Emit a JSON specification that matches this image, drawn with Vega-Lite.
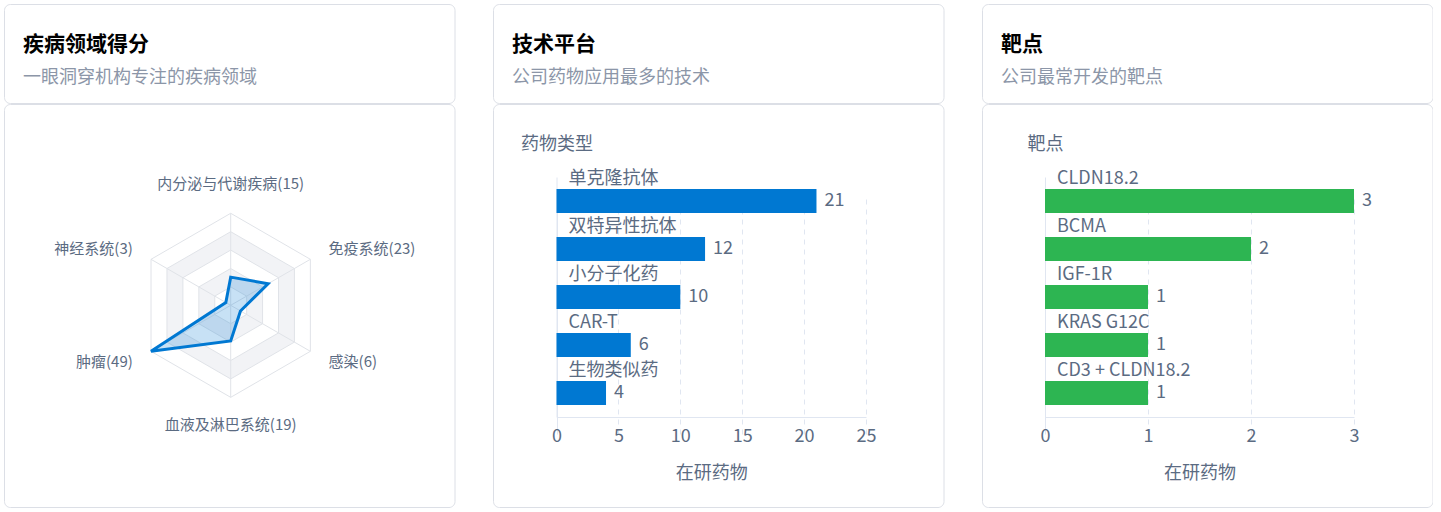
{
  "$schema": "https://vega.github.io/schema/vega-lite/v6.json",
  "padding": {"left": 3, "top": 3, "right": 0, "bottom": 0},
  "background": "#ffffff",
  "spacing": 37,
  "config": {
    "font": "Noto Sans CJK SC",
    "view": {"stroke": "#dcdfe6", "cornerRadius": 6, "strokeWidth": 1},
    "text": {"font": "Noto Sans CJK SC"},
    "title": {"font": "Noto Sans CJK SC", "subtitleFont": "Noto Sans CJK SC"},
    "axis": {"labelFont": "Noto Sans CJK SC", "titleFont": "Noto Sans CJK SC"}
  },
  "datasets": {
    "radar": [
      {"name": "内分泌与代谢疾病", "label": "内分泌与代谢疾病(15)", "value": 15, "i": 0},
      {"name": "免疫系统", "label": "免疫系统(23)", "value": 23, "i": 1},
      {"name": "感染", "label": "感染(6)", "value": 6, "i": 2},
      {"name": "血液及淋巴系统", "label": "血液及淋巴系统(19)", "value": 19, "i": 3},
      {"name": "肿瘤", "label": "肿瘤(49)", "value": 49, "i": 4},
      {"name": "神经系统", "label": "神经系统(3)", "value": 3, "i": 5}
    ],
    "rings": [
      {"ring": 1, "r": 9.8, "i": 0}, {"ring": 1, "r": 9.8, "i": 1}, {"ring": 1, "r": 9.8, "i": 2}, {"ring": 1, "r": 9.8, "i": 3}, {"ring": 1, "r": 9.8, "i": 4}, {"ring": 1, "r": 9.8, "i": 5},
      {"ring": 2, "r": 19.6, "i": 0}, {"ring": 2, "r": 19.6, "i": 1}, {"ring": 2, "r": 19.6, "i": 2}, {"ring": 2, "r": 19.6, "i": 3}, {"ring": 2, "r": 19.6, "i": 4}, {"ring": 2, "r": 19.6, "i": 5},
      {"ring": 3, "r": 29.4, "i": 0}, {"ring": 3, "r": 29.4, "i": 1}, {"ring": 3, "r": 29.4, "i": 2}, {"ring": 3, "r": 29.4, "i": 3}, {"ring": 3, "r": 29.4, "i": 4}, {"ring": 3, "r": 29.4, "i": 5},
      {"ring": 4, "r": 39.2, "i": 0}, {"ring": 4, "r": 39.2, "i": 1}, {"ring": 4, "r": 39.2, "i": 2}, {"ring": 4, "r": 39.2, "i": 3}, {"ring": 4, "r": 39.2, "i": 4}, {"ring": 4, "r": 39.2, "i": 5},
      {"ring": 5, "r": 49, "i": 0}, {"ring": 5, "r": 49, "i": 1}, {"ring": 5, "r": 49, "i": 2}, {"ring": 5, "r": 49, "i": 3}, {"ring": 5, "r": 49, "i": 4}, {"ring": 5, "r": 49, "i": 5}
    ],
    "drugs": [
      {"name": "单克隆抗体", "count": 21},
      {"name": "双特异性抗体", "count": 12},
      {"name": "小分子化药", "count": 10},
      {"name": "CAR-T", "count": 6},
      {"name": "生物类似药", "count": 4}
    ],
    "targets": [
      {"name": "CLDN18.2", "count": 3},
      {"name": "BCMA", "count": 2},
      {"name": "IGF-1R", "count": 1},
      {"name": "KRAS G12C", "count": 1},
      {"name": "CD3 + CLDN18.2", "count": 1}
    ],
    "blank": [{"k": 1}]
  },
  "hconcat": [
    {
      "spacing": -3,
      "vconcat": [
        {
          "width": 450.5, "height": 99,
          "view": {"stroke": "#dcdfe6", "cornerRadius": 6, "fill": "#ffffff"},
          "data": {"name": "blank"},
          "mark": {"type": "rect", "opacity": 0},
          "title": {"text": "疾病领域得分", "subtitle": "一眼洞穿机构专注的疾病领域", "anchor": "start", "frame": "group", "orient": "top", "offset": -83, "dx": 19, "fontSize": 21, "fontWeight": "bold", "color": "#000000", "subtitleFontSize": 18, "subtitleColor": "#8c96a8", "subtitlePadding": 14}
        },
        {
          "width": 450.5, "height": 403,
          "layer": [
            {
              "data": {"name": "rings"},
              "transform": [{"filter": "datum.ring === 4"}, {"calculate": "datum.r * sin(datum.i * PI / 3)", "as": "x"}, {"calculate": "datum.r * cos(datum.i * PI / 3)", "as": "y"}],
              "mark": {"type": "line", "interpolate": "linear-closed", "fill": "#f2f3f6", "stroke": "#e0e3e8", "strokeWidth": 1},
              "encoding": {
                "x": {"field": "x", "type": "quantitative", "scale": {"domain": [-120.74, 119.2], "nice": false, "zero": false}, "axis": null},
                "y": {"field": "y", "type": "quantitative", "scale": {"domain": [-107.4, 107.2], "nice": false, "zero": false}, "axis": null},
                "order": {"field": "i"}
              }
            },
            {
              "data": {"name": "rings"},
              "transform": [{"filter": "datum.ring === 3"}, {"calculate": "datum.r * sin(datum.i * PI / 3)", "as": "x"}, {"calculate": "datum.r * cos(datum.i * PI / 3)", "as": "y"}],
              "mark": {"type": "line", "interpolate": "linear-closed", "fill": "#ffffff", "stroke": "#e0e3e8", "strokeWidth": 1},
              "encoding": {"x": {"field": "x", "type": "quantitative"}, "y": {"field": "y", "type": "quantitative"}, "order": {"field": "i"}}
            },
            {
              "data": {"name": "rings"},
              "transform": [{"filter": "datum.ring === 2"}, {"calculate": "datum.r * sin(datum.i * PI / 3)", "as": "x"}, {"calculate": "datum.r * cos(datum.i * PI / 3)", "as": "y"}],
              "mark": {"type": "line", "interpolate": "linear-closed", "fill": "#f2f3f6", "stroke": "#e0e3e8", "strokeWidth": 1},
              "encoding": {"x": {"field": "x", "type": "quantitative"}, "y": {"field": "y", "type": "quantitative"}, "order": {"field": "i"}}
            },
            {
              "data": {"name": "rings"},
              "transform": [{"filter": "datum.ring === 1"}, {"calculate": "datum.r * sin(datum.i * PI / 3)", "as": "x"}, {"calculate": "datum.r * cos(datum.i * PI / 3)", "as": "y"}],
              "mark": {"type": "line", "interpolate": "linear-closed", "fill": "#ffffff", "stroke": "#e0e3e8", "strokeWidth": 1},
              "encoding": {"x": {"field": "x", "type": "quantitative"}, "y": {"field": "y", "type": "quantitative"}, "order": {"field": "i"}}
            },
            {
              "data": {"name": "rings"},
              "transform": [{"filter": "datum.ring === 5"}, {"calculate": "datum.r * sin(datum.i * PI / 3)", "as": "x"}, {"calculate": "datum.r * cos(datum.i * PI / 3)", "as": "y"}],
              "mark": {"type": "line", "interpolate": "linear-closed", "stroke": "#e0e3e8", "strokeWidth": 1},
              "encoding": {"x": {"field": "x", "type": "quantitative"}, "y": {"field": "y", "type": "quantitative"}, "order": {"field": "i"}}
            },
            {
              "data": {"name": "rings"},
              "transform": [{"filter": "datum.ring === 5"}, {"calculate": "datum.r * sin(datum.i * PI / 3)", "as": "x"}, {"calculate": "datum.r * cos(datum.i * PI / 3)", "as": "y"}],
              "mark": {"type": "rule", "stroke": "#e0e3e8", "strokeWidth": 1},
              "encoding": {"x": {"field": "x", "type": "quantitative"}, "y": {"field": "y", "type": "quantitative"}, "x2": {"datum": 0}, "y2": {"datum": 0}}
            },
            {
              "data": {"name": "radar"},
              "transform": [{"calculate": "datum.value * sin(datum.i * PI / 3)", "as": "x"}, {"calculate": "datum.value * cos(datum.i * PI / 3)", "as": "y"}],
              "mark": {"type": "line", "interpolate": "linear-closed", "fill": "#0078d2", "fillOpacity": 0.22, "stroke": "#0078d2", "strokeWidth": 3, "strokeJoin": "miter"},
              "encoding": {"x": {"field": "x", "type": "quantitative"}, "y": {"field": "y", "type": "quantitative"}, "order": {"field": "i"}}
            },
            {
              "data": {"name": "radar"},
              "transform": [{"filter": "datum.i === 0"}, {"calculate": "60.2 * sin(datum.i * PI / 3)", "as": "x"}, {"calculate": "60.2 * cos(datum.i * PI / 3)", "as": "y"}],
              "mark": {"type": "text", "align": "center", "baseline": "bottom", "fontSize": 15, "color": "#5b6b82"},
              "encoding": {"x": {"field": "x", "type": "quantitative"}, "y": {"field": "y", "type": "quantitative"}, "text": {"field": "label"}}
            },
            {
              "data": {"name": "radar"},
              "transform": [{"filter": "datum.i === 1 || datum.i === 2"}, {"calculate": "60.2 * sin(datum.i * PI / 3)", "as": "x"}, {"calculate": "60.2 * cos(datum.i * PI / 3)", "as": "y"}],
              "mark": {"type": "text", "align": "left", "baseline": "middle", "fontSize": 15, "color": "#5b6b82"},
              "encoding": {"x": {"field": "x", "type": "quantitative"}, "y": {"field": "y", "type": "quantitative"}, "text": {"field": "label"}}
            },
            {
              "data": {"name": "radar"},
              "transform": [{"filter": "datum.i === 3"}, {"calculate": "60.2 * sin(datum.i * PI / 3)", "as": "x"}, {"calculate": "60.2 * cos(datum.i * PI / 3)", "as": "y"}],
              "mark": {"type": "text", "align": "center", "baseline": "top", "fontSize": 15, "color": "#5b6b82"},
              "encoding": {"x": {"field": "x", "type": "quantitative"}, "y": {"field": "y", "type": "quantitative"}, "text": {"field": "label"}}
            },
            {
              "data": {"name": "radar"},
              "transform": [{"filter": "datum.i === 4 || datum.i === 5"}, {"calculate": "60.2 * sin(datum.i * PI / 3)", "as": "x"}, {"calculate": "60.2 * cos(datum.i * PI / 3)", "as": "y"}],
              "mark": {"type": "text", "align": "right", "baseline": "middle", "fontSize": 15, "color": "#5b6b82"},
              "encoding": {"x": {"field": "x", "type": "quantitative"}, "y": {"field": "y", "type": "quantitative"}, "text": {"field": "label"}}
            }
          ]
        }
      ]
    },
    {
      "spacing": -3,
      "vconcat": [
        {
          "width": 450.5, "height": 99,
          "view": {"stroke": "#dcdfe6", "cornerRadius": 6, "fill": "#ffffff"},
          "data": {"name": "blank"},
          "mark": {"type": "rect", "opacity": 0},
          "title": {"text": "技术平台", "subtitle": "公司药物应用最多的技术", "anchor": "start", "frame": "group", "orient": "top", "offset": -83, "dx": 19, "fontSize": 21, "fontWeight": "bold", "color": "#000000", "subtitleFontSize": 18, "subtitleColor": "#8c96a8", "subtitlePadding": 14}
        },
        {
          "width": 450.5, "height": 403,
          "data": {"name": "drugs"},
          "encoding": {
            "y": {"field": "name", "type": "nominal", "sort": null,
              "scale": {"range": [73, 313], "paddingInner": 0.5, "paddingOuter": 0.25},
              "axis": {"title": "药物类型", "labels": false, "ticks": false, "grid": false, "domain": true, "domainColor": "#e0e6f1", "offset": -63.5, "titleAngle": 0, "titleAlign": "center", "titleBaseline": "middle", "titleX": 0, "titleY": 40, "titleFontSize": 18, "titleFontWeight": "normal", "titleColor": "#5b6b82"}},
            "x": {"field": "count", "type": "quantitative",
              "scale": {"domain": [0, 25], "range": [63.5, 373], "nice": false},
              "axis": {"title": "在研药物", "values": [0, 5, 10, 15, 20, 25], "labelFlush": false, "offset": -90, "grid": true, "gridDash": {"condition": {"test": "datum.value === 0", "value": []}, "value": [5, 5]}, "gridColor": "#e0e6f1", "domainColor": "#e0e6f1", "ticks": false, "labelFontSize": 18, "labelColor": "#5b6b82", "labelPadding": 10, "titleFontSize": 18, "titleFontWeight": "normal", "titleColor": "#5b6b82", "titlePadding": 19}}
          },
          "layer": [
            {"mark": {"type": "bar", "color": "#0078d2"}},
            {"mark": {"type": "text", "align": "left", "baseline": "middle", "dx": 8, "fontSize": 18, "color": "#5b6b82"}, "encoding": {"text": {"field": "count"}}},
            {"mark": {"type": "text", "align": "left", "baseline": "middle", "dx": 12, "dy": -22, "fontSize": 18, "color": "#5b6b82"}, "encoding": {"x": {"datum": 0}, "text": {"field": "name"}}}
          ]
        }
      ]
    },
    {
      "spacing": -3,
      "vconcat": [
        {
          "width": 450.5, "height": 99,
          "view": {"stroke": "#dcdfe6", "cornerRadius": 6, "fill": "#ffffff"},
          "data": {"name": "blank"},
          "mark": {"type": "rect", "opacity": 0},
          "title": {"text": "靶点", "subtitle": "公司最常开发的靶点", "anchor": "start", "frame": "group", "orient": "top", "offset": -83, "dx": 19, "fontSize": 21, "fontWeight": "bold", "color": "#000000", "subtitleFontSize": 18, "subtitleColor": "#8c96a8", "subtitlePadding": 14}
        },
        {
          "width": 450.5, "height": 403,
          "data": {"name": "targets"},
          "encoding": {
            "y": {"field": "name", "type": "nominal", "sort": null,
              "scale": {"range": [73, 313], "paddingInner": 0.5, "paddingOuter": 0.25},
              "axis": {"title": "靶点", "labels": false, "ticks": false, "grid": false, "domain": true, "domainColor": "#e0e6f1", "offset": -63, "titleAngle": 0, "titleAlign": "center", "titleBaseline": "middle", "titleX": 0, "titleY": 40, "titleFontSize": 18, "titleFontWeight": "normal", "titleColor": "#5b6b82"}},
            "x": {"field": "count", "type": "quantitative",
              "scale": {"domain": [0, 3], "range": [63, 372], "nice": false},
              "axis": {"title": "在研药物", "values": [0, 1, 2, 3], "labelFlush": false, "offset": -90, "grid": true, "gridDash": {"condition": {"test": "datum.value === 0", "value": []}, "value": [5, 5]}, "gridColor": "#e0e6f1", "domainColor": "#e0e6f1", "ticks": false, "labelFontSize": 18, "labelColor": "#5b6b82", "labelPadding": 10, "titleFontSize": 18, "titleFontWeight": "normal", "titleColor": "#5b6b82", "titlePadding": 19}}
          },
          "layer": [
            {"mark": {"type": "bar", "color": "#2db552"}},
            {"mark": {"type": "text", "align": "left", "baseline": "middle", "dx": 8, "fontSize": 18, "color": "#5b6b82"}, "encoding": {"text": {"field": "count"}}},
            {"mark": {"type": "text", "align": "left", "baseline": "middle", "dx": 12, "dy": -22, "fontSize": 18, "color": "#5b6b82"}, "encoding": {"x": {"datum": 0}, "text": {"field": "name"}}}
          ]
        }
      ]
    }
  ]
}
